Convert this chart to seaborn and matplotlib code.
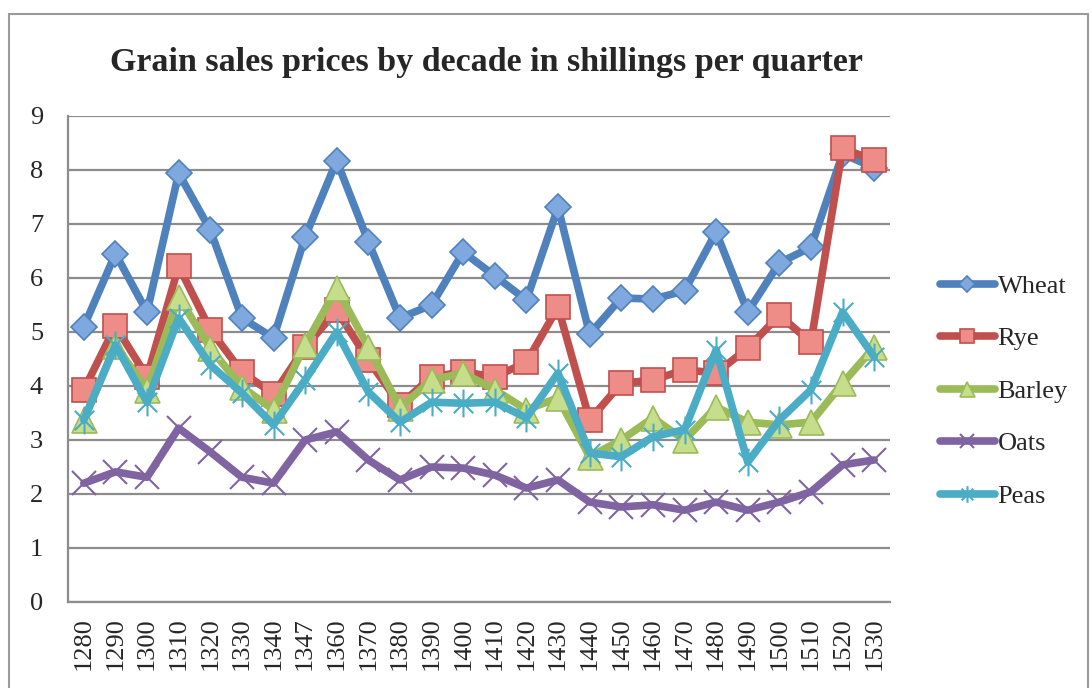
import numpy as np
import pandas as pd
import matplotlib
matplotlib.use("Agg")
import matplotlib.pyplot as plt
import seaborn as sns
from matplotlib.patches import Rectangle
from matplotlib.path import Path

# Decades (1347 is in the source table as-is)
decades = ["1280", "1290", "1300", "1310", "1320", "1330", "1340", "1347", "1360",
           "1370", "1380", "1390", "1400", "1410", "1420", "1430", "1440", "1450",
           "1460", "1470", "1480", "1490", "1500", "1510", "1520", "1530"]

wheat = [5.1, 6.45, 5.37, 7.94, 6.89, 5.26, 4.89, 6.76, 8.17, 6.67, 5.26, 5.5, 6.48,
         6.04, 5.59, 7.31, 4.96, 5.63, 5.61, 5.76, 6.85, 5.37, 6.28, 6.57, 8.3, 8.04]
rye = [3.93, 5.11, 4.17, 6.22, 5.04, 4.26, 3.85, 4.72, 5.4, 4.48, 3.65, 4.17, 4.26,
       4.17, 4.44, 5.46, 3.37, 4.05, 4.11, 4.3, 4.24, 4.7, 5.31, 4.81, 8.4, 8.18]
barley = [3.37, 4.75, 3.93, 5.65, 4.7, 3.98, 3.56, 4.76, 5.81, 4.72, 3.6, 4.11, 4.24,
          3.93, 3.56, 3.78, 2.69, 3.0, 3.41, 3.0, 3.61, 3.33, 3.28, 3.33, 4.05, 4.72]
oats = [2.2, 2.41, 2.31, 3.22, 2.78, 2.31, 2.2, 3.0, 3.15, 2.63, 2.26, 2.5, 2.48,
        2.35, 2.11, 2.26, 1.85, 1.76, 1.8, 1.7, 1.85, 1.7, 1.85, 2.04, 2.54, 2.63]
peas = [3.37, 4.76, 3.7, 5.26, 4.39, 3.87, 3.28, 4.11, 5.0, 3.89, 3.33, 3.7, 3.68,
        3.7, 3.41, 4.24, 2.76, 2.69, 3.06, 3.19, 4.67, 2.59, 3.37, 3.93, 5.37, 4.54]

series = {"Wheat": wheat, "Rye": rye, "Barley": barley, "Oats": oats, "Peas": peas}

# Excel-style "star" marker: an X with a vertical bar through it
star = Path([(0, -1), (0, 1), (-0.7, -0.7), (0.7, 0.7), (-0.7, 0.7), (0.7, -0.7)],
            [Path.MOVETO, Path.LINETO] * 3)

styles = {
    "Wheat": dict(color="#4F81BD", marker="D", ms=13, mfc="#7FA9DE", mec="#4F81BD", mew=1.2),
    "Rye": dict(color="#C0504D", marker="s", ms=17, mfc="#EE8C88", mec="#C0504D", mew=1.2),
    "Barley": dict(color="#9BBB59", marker="^", ms=18, mfc="#C6DE8C", mec="#9BBB59", mew=1.2),
    "Oats": dict(color="#8064A2", marker="x", ms=17, mfc="#8064A2", mec="#8064A2", mew=1.5),
    "Peas": dict(color="#4BACC6", marker=star, ms=20, mfc="#4BACC6", mec="#4BACC6", mew=1.5),
}

sns.set_theme(style="white")
plt.rcParams["font.family"] = ["Liberation Serif", "DejaVu Serif"]

fig = plt.figure(figsize=(10.91, 6.88), dpi=100)
ax = fig.add_axes([68 / 1091, 86 / 688, 822 / 1091, 486 / 688])

pos = np.arange(len(decades))
for name, vals in series.items():
    st = styles[name]
    sns.lineplot(x=pos, y=vals, ax=ax, label=name, color=st["color"], linewidth=5.5,
                 marker=st["marker"], markersize=st["ms"], markerfacecolor=st["mfc"],
                 markeredgecolor=st["mec"], markeredgewidth=st["mew"],
                 solid_capstyle="round", solid_joinstyle="round")

ax.set_xlim(-0.5, len(decades) - 0.5)
ax.set_ylim(0, 9)
ax.set_yticks(range(0, 10))
ax.set_xticks(pos)
ax.set_xticklabels(decades, rotation=90, fontsize=19)
ax.tick_params(axis="y", labelsize=19, pad=12)
ax.tick_params(axis="x", pad=5)
ax.yaxis.grid(True, color="#8C8C8C", linewidth=1.6)
ax.set_axisbelow(True)
for side in ["top", "right"]:
    ax.spines[side].set_visible(False)
for side in ["left", "bottom"]:
    ax.spines[side].set_color("#8C8C8C")
    ax.spines[side].set_linewidth(1.6)
ax.set_xlabel("")
ax.set_ylabel("")

leg = ax.legend(loc="center left", bbox_to_anchor=(929 / 1091, 1 - 391 / 688),
                bbox_transform=fig.transFigure, frameon=False, fontsize=19,
                handlelength=2.1, handletextpad=0.1, labelspacing=1.1,
                markerscale=0.6, borderaxespad=0)

fig.text(486 / 1091, 1 - 62 / 688, "Grain sales prices by decade in shillings per quarter",
         ha="center", va="center", fontsize=24.5, fontweight="bold")

# chart-area border
fig.patches.append(Rectangle((9 / 1091, -0.05), 1079 / 1091, 1.05 - 14 / 688,
                             transform=fig.transFigure, fill=False,
                             edgecolor="#9A9A9A", linewidth=1.5))

fig.savefig("out.png", dpi=100)
